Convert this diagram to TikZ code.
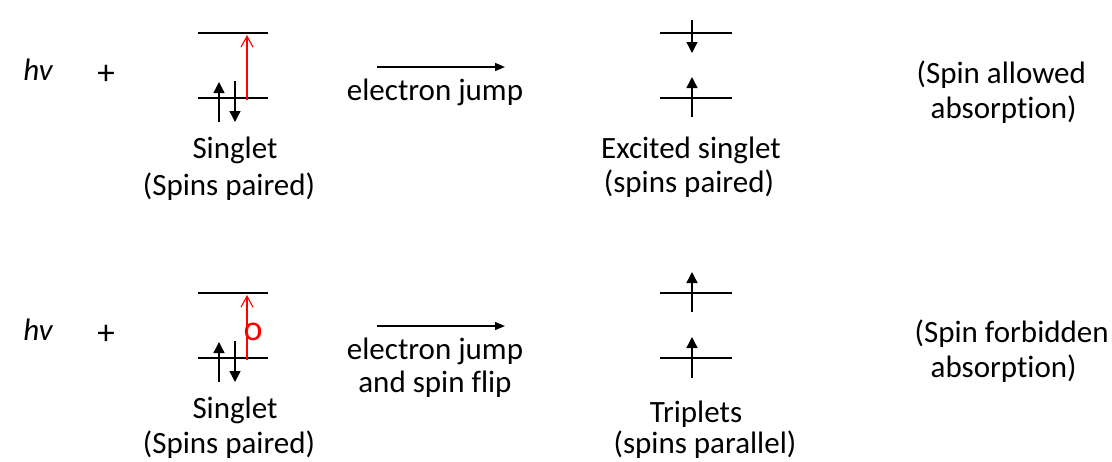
\documentclass[tikz,border=0pt]{standalone}
\usepackage{fontspec}
\setmainfont{Carlito}[Ligatures=NoCommon]
\usetikzlibrary{arrows.meta}
\begin{document}
\begin{tikzpicture}[x=1pt,y=-1pt,line width=1.4pt,
	spin/.style={-{Triangle[length=11pt,width=11pt]}},
	jump/.style={-{Triangle[length=10pt,width=8pt]}},
	excite/.style={red,line width=1.1pt,-{Straight Barb[length=11pt,width=12pt]}},
	lbl/.style={inner sep=0pt,anchor=base,font=\fontsize{31}{37}\selectfont}]
	\useasboundingbox (0,0) rectangle (1112,461);

	%LEVELS
	\draw (198, 33)--(268, 33); \draw (198, 98)--(268, 98); %singlet
	\draw (198,293)--(268,293); \draw (198,358)--(268,358); %singlet
	\draw (660, 33)--(732, 33); \draw (660, 98)--(732, 98); %excited singlet
	\draw (660,293)--(732,293); \draw (660,358)--(732,358); %triplets

	%SPINS
	\draw[spin] (219,122)--(219, 82); \draw[spin] (235, 81)--(235,122);
	\draw[spin] (219,382)--(219,342); \draw[spin] (235,341)--(235,382);
	\draw[spin] (692, 20)--(692, 53); \draw[spin] (692,117)--(692, 77);
	\draw[spin] (692,312)--(692,272); \draw[spin] (692,378)--(692,337);

	%EXCITATION
	\coordinate (up1a) at (247,100); \coordinate (up1b) at (247, 35);
	\coordinate (up2a) at (247,360); \coordinate (up2b) at (247,295);
	\draw[excite] (up1a)--(up1b);
	\draw[excite] (up2a)--(up2b);
	\node[lbl,anchor=center,red,font=\fontsize{36}{40}\selectfont] (flip) at (253,332) {o};

	%JUMPS
	\coordinate (jmp1a) at (377, 67); \coordinate (jmp1b) at (505, 67);
	\coordinate (jmp2a) at (377,326); \coordinate (jmp2b) at (505,326);
	\draw[jump] (jmp1a)--(jmp1b);
	\draw[jump] (jmp2a)--(jmp2b);

	%LABELS
	\node[lbl,anchor=base east] (hv1) at (54, 80) {\textit{hv}};
	\node[lbl,anchor=base east] (hv2) at (54,340) {\textit{hv}};
	\node[lbl,anchor=center,font=\fontsize{35}{40}\selectfont] (plus1) at (106, 75) {+};
	\node[lbl,anchor=center,font=\fontsize{35}{40}\selectfont] (plus2) at (106,335) {+};
	\node[lbl] (sgl1) at (235,158) {Singlet};
	\node[lbl] (pair1) at (229,195) {(Spins paired)};
	\node[lbl] (sgl2) at (235,418) {Singlet};
	\node[lbl] (pair2) at (229,453) {(Spins paired)};
	\node[lbl] (ej1) at (435,100) {electron jump};
	\node[lbl] (ej2) at (435,359) {electron jump};
	\node[lbl] (sf2) at (435,392) {and spin flip};
	\node[lbl] (exc1) at (691,158) {Excited singlet};
	\node[lbl] (epair1) at (689,192) {(spins paired)};
	\node[lbl] (trip2) at (696,422) {Triplets};
	\node[lbl] (par2) at (705,453) {(spins parallel)};
	\node[lbl,anchor=base west] (allow1) at (916, 83) {(Spin allowed};
	\node[lbl,anchor=base west] (abs1) at (930,118) {absorption)};
	\node[lbl,anchor=base west] (forb2) at (914,342) {(Spin forbidden};
	\node[lbl,anchor=base west] (abs2) at (930,377) {absorption)};
\end{tikzpicture}
\end{document}
